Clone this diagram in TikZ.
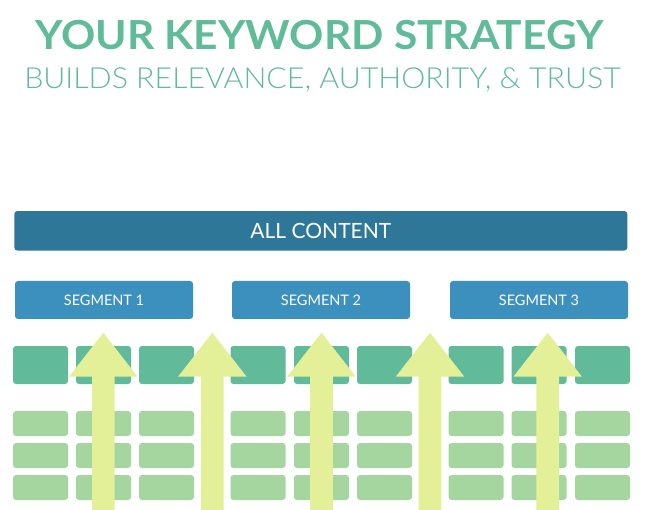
\documentclass[tikz,border=0pt]{standalone}
\usepackage{fontspec}
\setmainfont{Lato}
\newfontfamily\lightfont{Lato Light}

\definecolor{titlegreen}{HTML}{60BB99}
\definecolor{contentblue}{HTML}{2F7799}
\definecolor{segblue}{HTML}{3B90BE}
\definecolor{tiledark}{HTML}{61BA9A}
\definecolor{tilelight}{HTML}{A5D6A0}
\definecolor{arrowyellow}{HTML}{E3F097}

\tikzset{
  bar/.style={rounded corners=3pt, inner sep=0pt, text=white},
  tile/.style={rounded corners=3pt, inner sep=0pt, minimum width=55pt},
  every picture/.append style={x=1pt, y=-1pt}
}

\begin{document}
\begin{tikzpicture}
  \useasboundingbox (0,0) rectangle (650,510);
  % heading
  \node[anchor=base, text=titlegreen, font=\fontsize{40}{40}\selectfont\bfseries] (title) at(319.5,50){\scalebox{1.062}[1]{YOUR KEYWORD STRATEGY}};
  \node[anchor=base, text=titlegreen, font=\fontsize{29}{29}\selectfont\lightfont] (subtitle) at(322.5,89){\scalebox{1.046}[1]{BUILDS RELEVANCE, AUTHORITY, \& TRUST}};
  % content bars
  \node[bar, fill=contentblue, minimum width=613pt, minimum height=39.5pt, font=\fontsize{21}{21}\selectfont] (allcontent) at(320.8,230.8){ALL CONTENT};
  \node[bar, fill=segblue, minimum width=178pt, minimum height=38pt, font=\fontsize{14.5}{14.5}\selectfont] (seg1) at(104,300){SEGMENT 1};
  \node[bar, fill=segblue, minimum width=178pt, minimum height=38pt, font=\fontsize{14.5}{14.5}\selectfont] (seg2) at(321,300){SEGMENT 2};
  \node[bar, fill=segblue, minimum width=178pt, minimum height=38pt, font=\fontsize{14.5}{14.5}\selectfont] (seg3) at(539,300){SEGMENT 3};
  % tiles
  \foreach \x [count=\i] in {40.5,103.5,166.5,258,321.5,384.5,476,539,602.5} {
    \node[tile, fill=tiledark, minimum height=38pt] (t-\i-0) at(\x,365){};
    \foreach \y [count=\j] in {423.5,455.5,487.5}
      \node[tile, fill=tilelight, minimum height=25pt] (t-\i-\j) at(\x,\y){};
  }
  % arrows
  \foreach \x in {103.3,212.3,321.5,430,547.7}
    \fill[arrowyellow] (\x-11.3,515) -- (\x-11.3,376.7) -- (\x-34.3,376.7) -- (\x,332.7)
      -- (\x+34.3,376.7) -- (\x+11.3,376.7) -- (\x+11.3,515) -- cycle;
\end{tikzpicture}
\end{document}
